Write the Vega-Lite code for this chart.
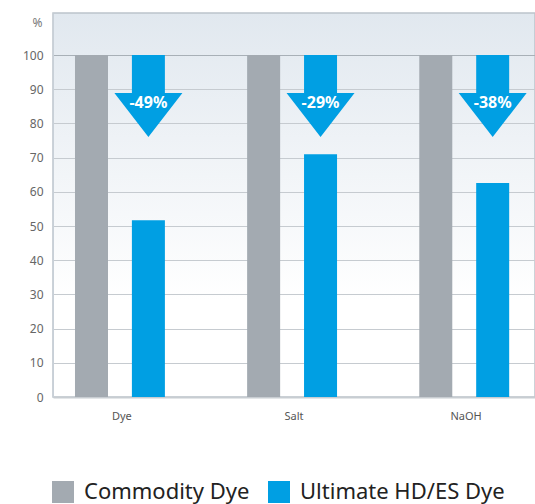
{
  "$schema": "https://vega.github.io/schema/vega-lite/v6.json",
  "autosize": {"type": "none"},
  "width": 482,
  "height": 384,
  "padding": {"left": 53, "top": 13, "right": 0, "bottom": 107},
  "background": "#ffffff",
  "config": {
    "font": "Noto Sans",
    "view": {
      "fill": {"gradient": "linear", "x1": 0, "y1": 0, "x2": 0, "y2": 1,
        "stops": [{"offset": 0, "color": "#e1e8ef"}, {"offset": 0.75, "color": "#ffffff"}, {"offset": 1, "color": "#ffffff"}]},
      "stroke": "#bcc4cb",
      "strokeWidth": 1.5
    },
    "axisY": {"labelOverlap": false, "tickCount": 11}
  },
  "datasets": {
    "bars": [
      {"cat": "Dye", "series": "Commodity Dye", "value": 100},
      {"cat": "Dye", "series": "Ultimate HD/ES Dye", "value": 51.7},
      {"cat": "Salt", "series": "Commodity Dye", "value": 100},
      {"cat": "Salt", "series": "Ultimate HD/ES Dye", "value": 71},
      {"cat": "NaOH", "series": "Commodity Dye", "value": 100},
      {"cat": "NaOH", "series": "Ultimate HD/ES Dye", "value": 62.6}
    ],
    "arrows": [
      {"cat": "Dye", "series": "Ultimate HD/ES Dye", "change": "-49%"},
      {"cat": "Salt", "series": "Ultimate HD/ES Dye", "change": "-29%"},
      {"cat": "NaOH", "series": "Ultimate HD/ES Dye", "change": "-38%"}
    ]
  },
  "encoding": {
    "x": {
      "field": "cat", "type": "nominal", "sort": ["Dye", "Salt", "NaOH"],
      "scale": {"type": "band", "paddingInner": 0.2, "paddingOuter": 0},
      "axis": {"title": null, "labelAngle": 0, "labelFontSize": 11, "labelColor": "#555555", "labelPadding": 13, "ticks": false, "domainColor": "#c8cdd2", "domainWidth": 2}
    },
    "xOffset": {
      "field": "series", "type": "nominal", "sort": ["Commodity Dye", "Ultimate HD/ES Dye"],
      "scale": {"paddingInner": 0.42, "paddingOuter": 0.42, "align": 0.46}
    },
    "y": {
      "type": "quantitative",
      "scale": {"domain": [0, 112.3], "nice": false, "zero": true},
      "axis": {
        "values": [0, 10, 20, 30, 40, 50, 60, 70, 80, 90, 100],
        "labelOverlap": false,
        "ticks": false, "labelFontSize": 12, "labelColor": "#666666", "labelPadding": 10,
        "domain": true, "domainColor": "#c8d0d8",
        "gridColor": {"condition": {"test": "datum.value === 100", "value": "#a8b0b7"}, "value": "#c6cbd0"},
        "title": "%", "titleAngle": 0, "titleX": -16, "titleY": 9, "titleAlign": "center", "titleBaseline": "middle",
        "titleFontWeight": "normal", "titleFontSize": 12, "titleColor": "#777777"
      }
    }
  },
  "layer": [
    {
      "data": {"name": "bars"},
      "mark": {"type": "bar"},
      "encoding": {
        "y": {"field": "value", "type": "quantitative"},
        "color": {
          "field": "series", "type": "nominal",
          "scale": {"domain": ["Commodity Dye", "Ultimate HD/ES Dye"], "range": ["#a3aab1", "#009fe3"]},
          "legend": {
            "title": null, "orient": "none", "direction": "horizontal", "legendX": -1, "legendY": 468,
            "symbolType": "square", "symbolSize": 484, "symbolStrokeWidth": 0, "symbolOpacity": 1,
            "labelFontSize": 22, "labelColor": "#222222", "labelOffset": 10, "labelLimit": 400, "columnPadding": 18, "padding": 0
          }
        }
      }
    },
    {
      "data": {"name": "arrows"},
      "mark": {
        "type": "point", "filled": true, "opacity": 1, "color": "#009fe3", "size": 4624,
        "shape": "M-0.485,-1.118L0.485,-1.118L0.485,0L1,0L0,1.294L-1,0L-0.485,0Z"
      },
      "encoding": {
        "y": {"datum": 88.9, "type": "quantitative"}
      }
    },
    {
      "data": {"name": "arrows"},
      "mark": {"type": "text", "color": "#ffffff", "fontWeight": "bold", "fontSize": 16, "baseline": "middle", "align": "center"},
      "encoding": {
        "y": {"datum": 86, "type": "quantitative"},
        "text": {"field": "change"}
      }
    }
  ]
}
